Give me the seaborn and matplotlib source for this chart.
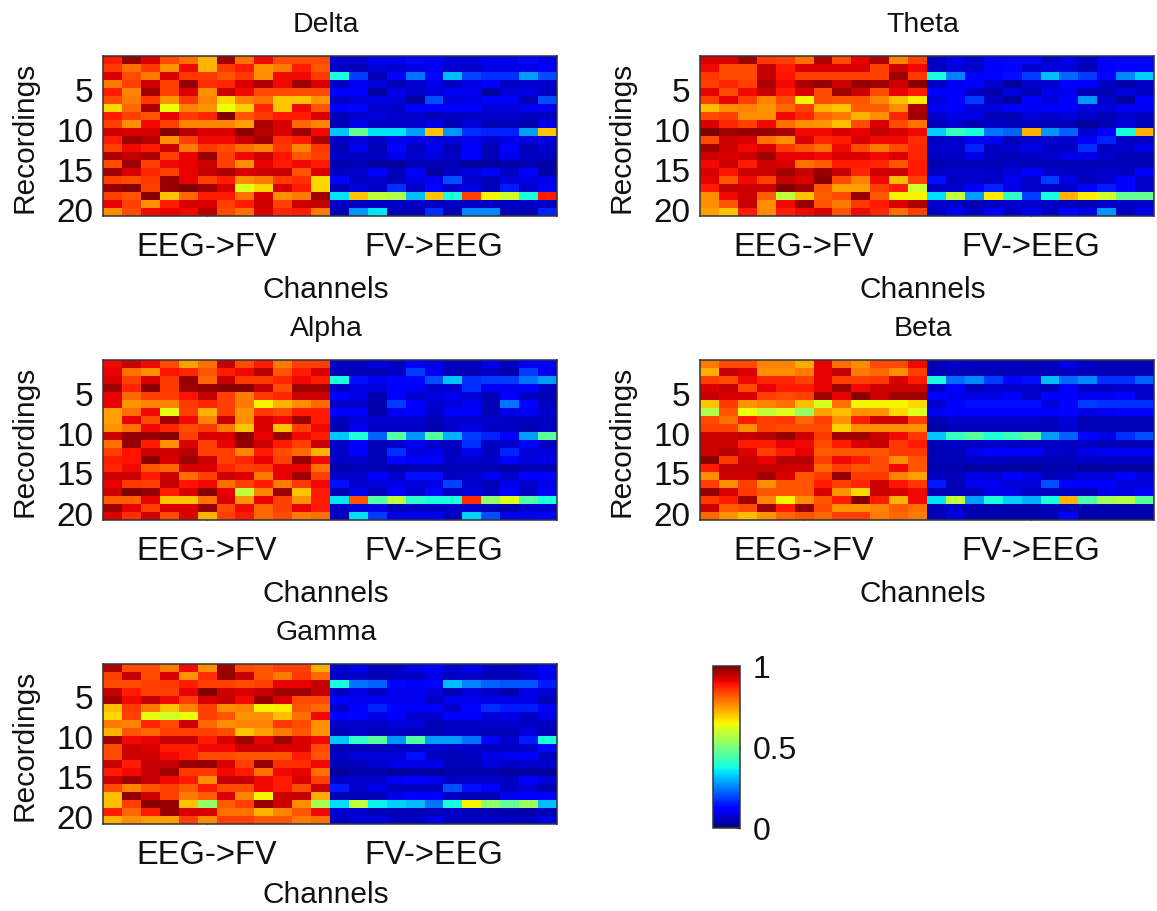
import numpy as np
import pandas as pd
import seaborn as sns
import matplotlib
matplotlib.use("Agg")
import matplotlib.pyplot as plt

sns.set_theme(style="white")
plt.rcParams['font.family'] = ['Liberation Sans', 'DejaVu Sans']

# Each row is one recording (1..20); values are x100, 12 channels per direction.
delta_eeg_fv = [
[88,98,92,83,79,72,97,79,90,83,83,83],[85,79,85,75,90,72,85,88,75,78,88,82],
[92,83,78,92,85,85,82,85,76,90,90,85],[78,84,93,84,98,86,87,92,96,90,97,92],
[88,77,97,84,92,76,93,90,83,83,83,83],[83,78,85,75,85,77,68,77,79,70,70,75],
[68,80,96,64,77,75,64,69,87,70,90,82],[88,84,82,91,85,87,100,82,85,88,88,92],
[84,76,90,84,77,77,77,74,96,92,80,77],[93,92,92,99,95,92,92,99,95,92,97,90],
[88,97,95,76,84,90,90,93,97,86,88,96],[84,90,88,93,78,85,83,79,77,85,77,85],
[96,94,96,84,91,98,84,90,93,89,82,84],[83,97,84,90,91,93,84,76,91,88,90,88],
[97,92,87,84,91,94,96,92,93,94,82,92],[84,83,85,98,91,84,88,76,78,85,86,68],
[98,99,84,98,100,97,92,62,68,92,88,68],[84,82,99,70,80,88,88,79,92,76,78,97],
[91,84,76,88,92,92,84,88,93,84,93,94],[76,83,90,91,90,95,83,79,92,87,88,78]]
delta_fv_eeg = [
[7,7,10,10,13,12,8,8,10,10,13,10],[6,5,8,7,9,10,7,7,9,9,9,12],
[38,18,5,13,24,13,31,19,17,17,28,20],[6,10,8,5,7,9,6,9,12,6,7,7],
[12,11,3,9,7,8,10,10,3,8,9,6],[7,8,9,8,3,20,8,9,12,12,5,20],
[12,13,7,6,11,11,11,12,8,8,10,10],[5,7,8,7,7,5,6,6,7,7,6,6],
[5,10,6,6,7,9,5,8,5,5,4,9],[32,47,35,35,28,70,27,17,16,16,28,70],
[6,8,6,10,9,8,8,10,7,9,8,8],[5,10,5,13,6,10,5,11,5,12,5,7],
[6,6,6,9,7,8,6,11,5,9,6,6],[4,5,3,3,5,5,5,3,3,4,5,4],
[6,7,12,5,12,3,6,8,11,6,12,4],[13,6,7,5,9,10,20,7,5,8,9,9],
[5,8,6,17,6,13,7,9,5,15,7,12],[35,70,58,56,31,70,38,84,65,60,38,88],
[6,6,6,6,6,6,6,6,6,6,6,6],[5,27,35,5,5,17,5,26,26,5,5,16]]

theta_eeg_fv = [
[92,92,97,85,84,79,96,83,91,96,77,84],[90,83,83,94,88,92,92,92,92,84,93,90],
[85,83,83,94,89,84,84,84,84,84,97,85],[84,87,84,96,90,96,98,93,98,97,93,99],
[91,83,90,94,88,92,83,97,93,83,91,88],[84,91,84,77,83,65,83,82,82,77,71,66],
[71,76,77,75,80,84,72,70,81,81,76,96],[83,84,76,76,90,87,80,78,72,76,87,97],
[92,87,84,90,79,76,75,71,83,92,83,79],[100,97,98,98,96,90,90,92,91,94,92,90],
[83,93,92,79,76,92,87,88,92,90,90,86],[97,93,90,92,85,82,79,90,83,78,83,87],
[93,92,93,97,91,91,90,92,92,90,92,87],[90,93,88,93,92,79,81,88,88,87,82,88],
[92,89,93,93,97,94,98,94,87,93,93,88],[91,82,90,84,94,92,99,83,77,90,71,84],
[88,94,93,93,100,97,82,74,74,84,88,60],[76,90,93,81,58,70,81,83,98,82,65,65],
[76,82,94,76,90,98,82,78,85,88,92,96],[74,70,88,76,88,90,92,82,90,87,79,84]]
theta_fv_eeg = [
[6,9,7,12,13,13,7,9,6,12,13,13],[6,8,7,12,13,7,8,8,5,12,13,13],
[38,25,12,13,14,18,31,23,18,13,26,33],[6,10,12,7,3,7,7,11,12,6,4,6],
[12,11,6,4,8,5,9,10,5,5,8,6],[8,12,18,6,3,12,8,12,27,7,3,12],
[10,12,8,8,11,10,11,11,8,8,10,10],[7,9,9,5,5,8,7,8,7,5,7,6],
[5,7,4,6,5,5,5,5,3,5,8,5],[33,42,38,24,22,72,27,22,7,12,38,72],
[6,7,10,10,5,7,7,7,11,16,6,6],[7,7,16,6,7,9,6,6,17,6,7,9],
[6,6,9,6,5,6,7,9,9,7,5,5],[4,5,5,5,6,5,5,5,5,5,5,5],
[6,7,7,6,8,12,7,6,6,7,6,11],[14,6,7,6,10,7,18,9,5,7,11,7],
[6,7,11,16,9,7,6,6,11,15,12,7],[34,58,28,66,41,18,38,72,66,60,47,47],
[7,7,4,6,7,7,6,6,5,7,6,7],[6,10,6,12,6,9,6,11,9,27,6,9]]

alpha_eeg_fv = [
[90,94,90,83,74,79,94,83,88,78,84,84],[91,79,76,89,87,82,88,90,95,82,88,92],
[92,84,92,85,98,80,94,85,85,87,90,88],[97,87,99,85,97,98,99,99,94,83,97,97],
[91,80,84,84,89,94,84,78,85,87,93,93],[91,75,77,77,85,87,84,78,65,72,76,80],
[74,79,90,63,84,72,84,75,85,83,88,88],[74,91,83,97,90,77,94,76,92,90,97,88],
[75,79,90,87,83,85,78,70,92,70,84,90],[93,98,98,99,84,92,92,99,91,98,90,88],
[79,98,88,76,92,84,91,98,93,88,84,94],[84,89,93,93,95,84,84,77,88,83,80,72],
[88,89,99,92,97,93,84,87,91,84,98,90],[87,90,82,80,92,92,87,84,85,91,91,79],
[93,93,88,93,79,84,93,92,78,91,97,84],[91,85,84,94,89,90,79,84,88,78,85,90],
[93,100,98,88,92,99,91,58,77,97,70,88],[81,81,91,70,70,79,92,75,91,84,75,88],
[97,91,84,92,92,98,83,90,80,84,91,88],[92,86,93,83,92,72,84,88,80,83,78,79]]
alpha_fv_eeg = [
[6,6,8,6,12,9,6,6,9,6,11,12],[5,5,5,6,18,10,5,5,6,4,18,10],
[38,14,10,13,13,20,32,17,18,18,24,28],[6,9,8,12,11,7,7,17,10,10,11,6],
[11,9,4,12,7,8,10,8,5,12,6,5],[7,7,4,18,11,7,8,10,5,24,13,6],
[12,12,4,10,11,6,11,11,5,9,10,7],[6,8,7,7,7,5,7,7,7,6,6,6],
[4,10,6,6,6,4,7,9,6,6,4,6],[32,39,22,45,27,45,30,18,16,12,28,46],
[6,11,5,7,10,7,6,17,6,7,13,6],[6,12,5,17,8,9,6,10,6,16,8,8],
[6,7,5,13,11,11,6,7,6,12,8,9],[4,5,5,4,5,5,5,5,5,4,5,5],
[7,7,11,7,14,14,6,7,10,7,12,12],[14,7,8,9,8,9,19,7,5,9,7,9],
[5,10,5,12,7,13,6,8,6,12,6,12],[35,82,45,58,40,38,38,86,52,62,45,38],
[6,8,9,5,6,6,6,7,5,4,7,7],[6,34,18,9,9,10,6,33,20,9,10,12]]

beta_eeg_fv = [
[78,83,83,77,77,73,91,79,76,83,83,90],[73,94,92,76,76,78,91,94,78,80,76,84],
[84,83,90,87,87,84,91,84,84,85,92,88],[92,94,83,91,88,88,91,97,90,93,93,93],
[94,92,92,84,83,84,97,91,99,93,97,97],[70,85,75,77,79,71,61,79,65,65,65,68],
[56,82,64,58,62,53,74,71,76,75,68,62],[83,79,88,84,85,80,84,75,88,93,93,84],
[84,84,76,84,83,83,83,69,76,76,76,75],[93,93,94,95,98,93,85,97,97,93,90,85],
[93,93,88,88,91,90,83,88,92,94,85,88],[93,95,92,84,88,91,81,82,82,82,85,85],
[99,85,93,91,95,95,84,90,88,83,76,82],[88,94,94,94,93,93,80,84,82,83,90,82],
[76,93,93,97,92,82,85,98,85,85,77,74],[84,76,84,76,82,82,88,84,87,93,89,85],
[98,92,85,82,82,82,92,75,68,93,92,90],[85,88,97,77,65,76,82,88,100,88,72,90],
[93,81,83,97,88,98,83,75,75,77,81,79],[80,75,71,75,80,82,80,84,84,78,80,78]]
beta_fv_eeg = [
[5,7,6,6,6,5,6,9,6,5,5,5],[5,5,5,5,5,5,5,6,5,5,5,5],
[38,23,26,18,13,14,31,23,26,17,17,22],[6,12,5,7,7,7,5,12,6,6,7,7],
[12,10,9,9,11,7,11,12,10,10,13,7],[7,12,14,14,14,14,8,13,18,17,17,17],
[10,12,12,12,11,12,11,13,9,10,11,11],[5,7,7,7,7,7,6,8,5,5,5,5],
[3,5,5,5,5,5,5,7,5,5,5,5],[32,42,46,39,42,46,28,22,13,9,17,20],
[5,6,6,7,6,6,6,6,6,5,5,5],[5,5,9,11,11,11,7,6,9,10,10,10],
[5,5,6,6,5,5,5,5,6,6,6,6],[4,4,3,3,3,3,4,4,3,3,3,3],
[6,5,9,8,12,9,5,6,8,8,12,8],[15,5,10,10,8,8,20,11,11,11,8,8],
[5,5,5,9,9,6,6,6,5,9,9,12],[35,58,28,38,33,30,38,72,44,55,57,46],
[5,7,4,4,4,4,5,5,4,4,4,4],[5,8,4,4,4,4,5,11,4,4,4,4]]

gamma_eeg_fv = [
[96,83,83,78,90,76,97,83,82,84,84,73],[84,94,83,92,75,86,98,94,82,78,85,80],
[83,83,84,85,88,84,84,83,84,91,91,94],[94,88,84,84,91,100,93,92,94,97,97,94],
[97,90,94,90,84,92,94,90,98,92,83,83],[71,85,78,70,77,84,76,77,65,66,82,80],
[68,84,63,60,64,84,82,75,76,71,79,90],[78,77,87,83,93,80,76,77,77,85,83,76],
[72,82,80,84,84,84,83,70,74,78,82,75],[97,90,91,94,94,88,92,97,91,97,92,90],
[83,93,92,88,88,90,90,93,93,92,92,83],[83,93,93,90,88,83,83,82,82,82,88,82],
[93,88,94,94,98,98,92,84,98,86,86,90],[88,90,94,97,85,85,90,88,79,90,91,79],
[93,97,94,90,88,76,94,94,90,88,92,84],[83,77,82,84,81,88,83,83,90,88,83,93],
[71,98,93,84,78,81,92,77,65,93,94,73],[71,84,99,98,70,53,81,84,98,93,76,55],
[88,80,88,98,92,92,79,79,72,77,82,90],[72,76,74,74,84,76,84,84,82,82,78,79]]
gamma_fv_eeg = [
[7,9,6,6,9,12,7,9,6,6,8,12],[6,7,5,6,6,9,6,7,5,5,7,10],
[38,24,22,13,12,13,31,25,22,21,21,15],[6,9,6,10,10,8,5,8,6,4,9,8],
[11,10,10,10,10,6,10,10,9,9,9,5],[7,12,16,12,12,12,7,13,17,15,15,12],
[11,13,9,11,7,7,11,12,8,9,6,9],[7,7,7,8,8,5,6,6,7,7,6,6],
[5,7,5,6,5,5,6,6,5,5,8,5],[32,41,46,27,45,28,28,24,12,7,15,38],
[5,5,5,6,6,7,6,6,6,6,7,13],[6,8,8,8,14,6,5,6,9,10,11,6],
[5,5,7,9,9,9,5,5,8,6,7,7],[3,4,4,3,3,3,4,4,4,3,3,3],
[6,7,7,10,12,10,6,7,7,6,11,8],[15,7,9,6,6,6,20,14,12,6,8,5],
[5,5,5,9,11,11,6,5,5,10,12,12],[34,58,36,33,31,24,38,65,52,47,54,31],
[7,7,5,5,5,5,6,5,5,4,4,5],[6,8,8,6,6,9,6,6,7,6,6,9]]

titles = ["Delta", "Theta", "Alpha", "Beta", "Gamma"]
left_parts = [delta_eeg_fv, theta_eeg_fv, alpha_eeg_fv, beta_eeg_fv, gamma_eeg_fv]
right_parts = [delta_fv_eeg, theta_fv_eeg, alpha_fv_eeg, beta_fv_eeg, gamma_fv_eeg]
direction_labels = ["EEG->FV", "FV->EEG"]
recording_ticks = [5, 10, 15, 20]
colorbar_ticks = [0, 0.5, 1]
colorbar_labels = ["0", "0.5", "1"]

W, H = 1157, 912
boxes = [(103, 57, 557, 217), (700, 57, 1154, 217),
         (103, 361, 557, 521), (700, 361, 1154, 521),
         (103, 665, 557, 825)]
xlabel_pads = [9, 9, 9, 9, 7]

def rect(x0, y0, x1, y1):
    return [x0 / W, 1 - y1 / H, (x1 - x0) / W, (y1 - y0) / H]

fig = plt.figure(figsize=(W / 100, H / 100), dpi=100, facecolor="white")
TEXT = "#111111"
mesh = None
for title, left, right, box, xpad in zip(titles, left_parts, right_parts, boxes, xlabel_pads):
    ax = fig.add_axes(rect(*box))
    values = np.hstack([np.array(left), np.array(right)]) / 100
    frame = pd.DataFrame(values, index=range(1, 21), columns=range(1, 25))
    sns.heatmap(frame, ax=ax, cmap="jet", vmin=0, vmax=1, cbar=False, linewidths=0)
    mesh = ax.collections[0]
    ax.set_xticks([5.5, 17.5], direction_labels, rotation=0)
    ax.set_yticks([t - 0.5 for t in recording_ticks],
                  [str(t) for t in recording_ticks], rotation=0)
    ax.tick_params(axis="x", direction="in", top=True, bottom=True, length=3,
                   width=1, color="#222222", labelsize=23.5, labelcolor=TEXT, pad=11)
    ax.tick_params(axis="y", direction="in", left=True, right=True, length=3,
                   width=1, color="#222222", labelsize=24, labelcolor=TEXT, pad=7)
    for spine in ax.spines.values():
        spine.set_visible(True)
        spine.set_linewidth(1.1)
        spine.set_color("#333333")
    ax.set_title(title, fontsize=20.5, color=TEXT, pad=18, x=0.491)
    ax.set_xlabel("Channels", fontsize=21.5, color=TEXT, labelpad=xpad, x=0.49)
    ax.set_ylabel("Recordings", fontsize=21.5, color=TEXT, labelpad=13)

cax = fig.add_axes(rect(713, 667, 740, 829))
cbar = fig.colorbar(mesh, cax=cax, ticks=colorbar_ticks)
cbar.ax.set_yticklabels(colorbar_labels)
cbar.ax.tick_params(direction="in", length=2, width=1, color="#222222",
                    labelsize=23, labelcolor=TEXT, pad=9)
cbar.outline.set_linewidth(1.1)
cbar.outline.set_edgecolor("#333333")

fig.savefig("out.png", dpi=100, facecolor="white")
